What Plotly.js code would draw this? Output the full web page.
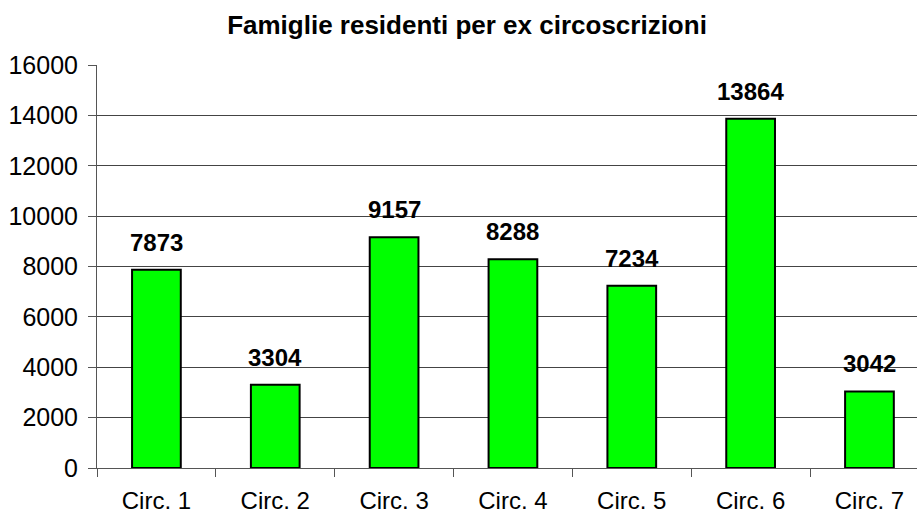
<!DOCTYPE html>
<html><head><meta charset="utf-8">
<script src="https://cdn.plot.ly/plotly-3.0.1.min.js"></script>
<style>body{margin:0;background:#fff}#c{width:917px;height:518px}</style>
</head><body><div id="c"></div>
<script>
const categories = ["Circ. 1","Circ. 2","Circ. 3","Circ. 4","Circ. 5","Circ. 6","Circ. 7"];
const values = [7873, 3304, 9157, 8288, 7234, 13864, 3042];
const yTicks = [0,2000,4000,6000,8000,10000,12000,14000,16000];

const FONT = "Liberation Sans, Arial, sans-serif";
const trace = {
  type: "bar", x: categories, y: values,
  marker: {color: "#00FF00", line: {color: "#000", width: 2}},
  width: 0.41, hoverinfo: "none"
};
const annotations = categories.map((c, i) => ({
  x: c, y: values[i], xref: "x", yref: "y", text: "<b>" + values[i] + "</b>",
  showarrow: false, yanchor: "bottom", xanchor: "center", yshift: 12,
  font: {family: FONT, size: 24, color: "#000"}
}));
const layout = {
  width: 917, height: 518,
  margin: {l: 97, r: 0, t: 65, b: 50},
  paper_bgcolor: "#fff", plot_bgcolor: "#fff",
  showlegend: false,
  annotations: annotations,
  title: {text: "<b>Famiglie residenti per ex circoscrizioni</b>", font: {family: FONT, size: 26, color: "#000"},
          x: 467/917, xanchor: "center", xref: "container", y: 1 - 25/518, yanchor: "middle", yref: "container"},
  xaxis: {type: "category", range: [-0.5, 6.40], tickson: "boundaries", ticks: "outside", ticklen: 8,
          tickcolor: "#555", tickwidth: 1, showgrid: false, showline: true, linecolor: "#555", linewidth: 1,
          tickfont: {family: FONT, size: 24, color: "#000"}, ticklabelstandoff: 11, fixedrange: true},
  yaxis: {range: [0, 16000], tickvals: yTicks, ticktext: yTicks.map(String), ticks: "outside", ticklen: 8,
          tickcolor: "#555", tickwidth: 1, showline: true, linecolor: "#555", linewidth: 1,
          showgrid: true, gridcolor: "#444", gridwidth: 1, zeroline: false,
          tickfont: {family: FONT, size: 25, color: "#000"}, ticklabelstandoff: 5, fixedrange: true}
};
Plotly.newPlot("c", [trace], layout, {displayModeBar: false, staticPlot: true});
</script></body></html>
